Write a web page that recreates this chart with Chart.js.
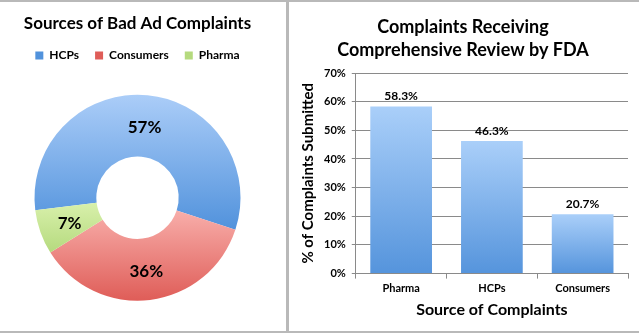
<!DOCTYPE html>
<html>
<head>
<meta charset="utf-8">
<script src="https://cdn.jsdelivr.net/npm/chart.js@4"></script>
<style>
body { margin: 0; background: #fff; }
#wrap { position: relative; width: 639px; height: 333px; overflow: hidden; }
.line { position: absolute; background: #b9b9b9; }
.box { position: absolute; }
</style>
</head>
<body>
<div id="wrap">
    <div class="line" style="left:0;top:0;width:639px;height:2px"></div>
    <div class="line" style="left:0;top:331px;width:639px;height:2px"></div>
    <div class="line" style="left:286px;top:0;width:3px;height:333px"></div>
    <div class="box" style="left:0;top:2px;width:286px;height:329px"><canvas id="pieChart"></canvas></div>
    <div class="box" style="left:289px;top:2px;width:350px;height:329px"><canvas id="barChart"></canvas></div>
</div>
<script>
// donut data
const pieLabels = ["HCPs", "Consumers", "Pharma"];
const pieValues = [57, 36, 7];
// bar data
const barLabels = ["Pharma", "HCPs", "Consumers"];
const barValues = [58.3, 46.3, 20.7];
const yTicks = [0, 10, 20, 30, 40, 50, 60, 70];

const FONT = "Lato, 'Open Sans', sans-serif";
Chart.defaults.font.family = FONT;
Chart.defaults.color = "#000";
Chart.defaults.animation = false;

const pieColors = [
    ["#abcdf8", "#5192dc"],
    ["#f8aeaa", "#df5d58"],
    ["#d8f0ab", "#b5da7e"],
];
const ROT = -97;
const OUTER = 103;
const CUT = 0.4;

// vertical gradient over each slice's own height
function sliceGradient(ctx) {
    const chart = ctx.chart;
    const area = chart.chartArea;
    const i = ctx.dataIndex;
    if (!area || i === undefined) return pieColors[i || 0][0];
    const cx = (area.left + area.right) / 2;
    const cy = (area.top + area.bottom) / 2;
    const total = pieValues.reduce((a, b) => a + b, 0);
    let before = 0;
    for (let k = 0; k < i; k++) before += pieValues[k];
    const a0 = (ROT - 90) * Math.PI / 180 + before / total * 2 * Math.PI;
    const a1 = a0 + pieValues[i] / total * 2 * Math.PI;
    let minY = Infinity, maxY = -Infinity;
    for (let s = 0; s <= 40; s++) {
        const a = a0 + (a1 - a0) * s / 40;
        [OUTER, OUTER * CUT].forEach(function (r) {
            const y = cy + r * Math.sin(a);
            minY = Math.min(minY, y);
            maxY = Math.max(maxY, y);
        });
    }
    const g = chart.ctx.createLinearGradient(0, minY, 0, maxY);
    g.addColorStop(0, pieColors[i][0]);
    g.addColorStop(1, pieColors[i][1]);
    return g;
}

const sliceLabels = {
    id: "sliceLabels",
    afterDatasetsDraw(chart) {
        const c = chart.ctx;
        const meta = chart.getDatasetMeta(0);
        c.save();
        c.font = "bold 17px " + FONT;
        c.fillStyle = "#000";
        c.textAlign = "center";
        c.textBaseline = "middle";
        meta.data.forEach(function (arc, i) {
            const p = arc.getCenterPoint();
            c.fillText(Math.round(pieValues[i]) + "%", p.x, p.y + 2);
        });
        c.restore();
    }
};

new Chart(document.getElementById("pieChart"), {
    type: "doughnut",
    data: {
        labels: pieLabels,
        datasets: [{
            data: pieValues,
            backgroundColor: sliceGradient,
            borderWidth: 0,
        }],
    },
    options: {
        responsive: true,
        maintainAspectRatio: false,
        rotation: ROT,
        cutout: (CUT * 100) + "%",
        radius: OUTER,
        layout: { padding: { left: 0, right: 11, top: 0, bottom: 7 } },
        plugins: {
            title: {
                display: true,
                text: "Sources of Bad Ad Complaints",
                font: { size: 17, weight: "bold" },
                padding: { top: 11, bottom: 0 },
            },
            legend: {
                position: "top",
                labels: {
                    boxWidth: 8,
                    boxHeight: 8,
                    padding: 16,
                    font: { size: 12, weight: "bold" },
                    generateLabels: function () {
                        return pieLabels.map(function (l, i) {
                            return { text: l, fillStyle: pieColors[i][1], strokeStyle: pieColors[i][1], lineWidth: 0, index: i };
                        });
                    },
                },
            },
            tooltip: { enabled: false },
        },
    },
    plugins: [sliceLabels],
});

function barGradient(ctx) {
    const chart = ctx.chart;
    if (!chart.chartArea || ctx.dataIndex === undefined) return "#7fb0ea";
    const y = chart.scales.y;
    const top = y.getPixelForValue(barValues[ctx.dataIndex]);
    const bottom = y.getPixelForValue(0);
    const g = chart.ctx.createLinearGradient(0, top, 0, bottom);
    g.addColorStop(0, "#aacff9");
    g.addColorStop(1, "#5594dc");
    return g;
}

const barLabelsPlugin = {
    id: "barLabels",
    afterDatasetsDraw(chart) {
        const c = chart.ctx;
        const meta = chart.getDatasetMeta(0);
        c.save();
        c.font = "bold 12px " + FONT;
        c.fillStyle = "#000";
        c.textAlign = "center";
        c.textBaseline = "bottom";
        meta.data.forEach(function (bar, i) {
            c.fillText(barValues[i].toFixed(1) + "%", bar.x, bar.y - 4);
        });
        c.restore();
    }
};

new Chart(document.getElementById("barChart"), {
    type: "bar",
    data: {
        labels: barLabels,
        datasets: [{
            data: barValues,
            backgroundColor: barGradient,
            borderWidth: 0,
            categoryPercentage: 1,
            barPercentage: 0.68,
        }],
    },
    options: {
        responsive: true,
        maintainAspectRatio: false,
        layout: { padding: { left: 9, right: 11, top: 0, bottom: 8 } },
        scales: {
            x: {
                grid: { drawOnChartArea: false, drawTicks: true, tickLength: 5, color: "#8a8a8a", offset: true },
                border: { color: "#8a8a8a" },
                ticks: { font: { size: 11, weight: "bold" }, padding: 3 },
                title: { display: true, text: "Source of Complaints", font: { size: 16, weight: "bold" }, padding: { top: 2 } },
            },
            y: {
                min: yTicks[0],
                max: yTicks[yTicks.length - 1],
                afterBuildTicks: function (axis) { axis.ticks = yTicks.map(function (v) { return { value: v }; }); },
                grid: { color: "#8a8a8a", tickLength: 4 },
                border: { color: "#8a8a8a" },
                ticks: { font: { size: 11, weight: "bold" }, padding: 6, callback: function (v) { return v + "%"; } },
                title: { display: true, text: "% of Complaints Submitted", font: { size: 15, weight: "bold" }, padding: { top: 1, bottom: 1 } },
            },
        },
        plugins: {
            title: {
                display: true,
                text: ["Complaints Receiving", "Comprehensive Review by FDA"],
                font: { size: 18, weight: "bold", lineHeight: 1.25 },
                padding: { top: 14, bottom: 12 },
            },
            legend: { display: false },
            tooltip: { enabled: false },
        },
    },
    plugins: [barLabelsPlugin],
});
</script>
</body>
</html>
